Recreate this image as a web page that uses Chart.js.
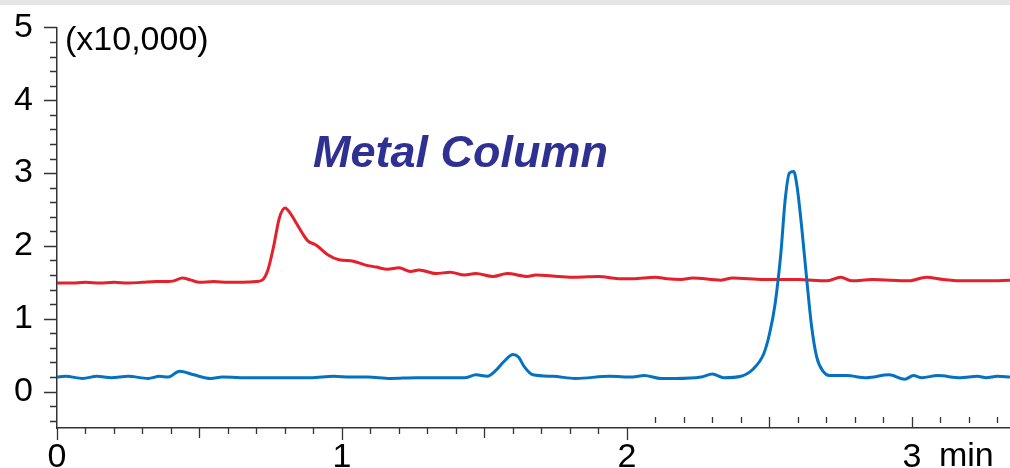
<!DOCTYPE html>
<html>
<head>
<meta charset="utf-8">
<script src="https://cdn.jsdelivr.net/npm/chart.js@4/dist/chart.umd.min.js"></script>
<style>
  html, body { margin: 0; padding: 0; background: #fff; }
  #wrap { position: relative; width: 1010px; height: 468px; }
  #topbar { position: absolute; left: 0; top: 0; width: 1010px; height: 5px; background: #e6e6e6; }
</style>
</head>
<body>
<div id="wrap">
  <canvas id="chart"></canvas>
  <div id="topbar"></div>
</div>
<script>
// time axis (min) and intensity (x10,000)
var redTimes = [0.00, 0.05, 0.10, 0.15, 0.20, 0.25, 0.30, 0.35, 0.39, 0.41, 0.44, 0.47, 0.50, 0.55, 0.60, 0.65, 0.70, 0.72,
  0.74, 0.76, 0.78, 0.80, 0.82, 0.84, 0.86, 0.88, 0.91, 0.95, 0.99, 1.04, 1.08, 1.12, 1.16, 1.20, 1.24, 1.27, 1.33,
  1.38, 1.43, 1.47, 1.53, 1.58, 1.65, 1.68, 1.76, 1.82, 1.90, 1.97, 2.02, 2.10, 2.14, 2.19, 2.23, 2.33, 2.37, 2.48,
  2.60, 2.70, 2.75, 2.79, 2.86, 2.99, 3.05, 3.11, 3.18, 3.27, 3.344];
var redValues = [1.49, 1.49, 1.50, 1.49, 1.50, 1.49, 1.50, 1.51, 1.51, 1.52, 1.56, 1.53, 1.50, 1.51, 1.50, 1.50, 1.51, 1.53,
  1.67, 1.99, 2.38, 2.52, 2.44, 2.31, 2.18, 2.07, 2.01, 1.88, 1.81, 1.79, 1.74, 1.71, 1.68, 1.70, 1.65, 1.67, 1.62,
  1.64, 1.60, 1.62, 1.58, 1.62, 1.58, 1.60, 1.58, 1.57, 1.58, 1.55, 1.55, 1.57, 1.55, 1.54, 1.56, 1.53, 1.56, 1.54,
  1.54, 1.52, 1.57, 1.52, 1.54, 1.52, 1.57, 1.54, 1.52, 1.52, 1.53];

var blueTimes = [0.00, 0.03, 0.09, 0.14, 0.19, 0.25, 0.32, 0.36, 0.39, 0.43, 0.48, 0.54, 0.58, 0.68, 0.79, 0.89, 0.97, 1.03,
  1.09, 1.17, 1.26, 1.36, 1.43, 1.47, 1.51, 1.54, 1.57, 1.60, 1.62, 1.64, 1.67, 1.74, 1.82, 1.94, 2.02, 2.06, 2.12,
  2.17, 2.26, 2.30, 2.34, 2.40, 2.44, 2.48, 2.50, 2.52, 2.54, 2.555, 2.57, 2.585, 2.597, 2.613, 2.631, 2.648, 2.666,
  2.69, 2.71, 2.77, 2.84, 2.92, 2.975, 3.005, 3.034, 3.09, 3.17, 3.23, 3.26, 3.30, 3.344];
var blueValues = [0.20, 0.21, 0.18, 0.21, 0.19, 0.21, 0.18, 0.21, 0.20, 0.28, 0.23, 0.18, 0.20, 0.19, 0.19, 0.19, 0.21, 0.20,
  0.20, 0.18, 0.19, 0.19, 0.19, 0.23, 0.21, 0.29, 0.42, 0.51, 0.47, 0.34, 0.23, 0.21, 0.18, 0.21, 0.20, 0.22, 0.18,
  0.18, 0.20, 0.24, 0.19, 0.21, 0.30, 0.52, 0.79, 1.21, 1.90, 2.63, 3.00, 3.02, 2.81, 2.26, 1.53, 0.89, 0.47,
  0.27, 0.22, 0.22, 0.19, 0.23, 0.17, 0.22, 0.19, 0.22, 0.19, 0.21, 0.19, 0.21, 0.20];

var xTickLabels = [0, 1, 2, 3];
var yTickLabels = [0, 1, 2, 3, 4, 5];

function toPoints(xs, ys) {
  return xs.map(function (x, i) { return { x: x, y: ys[i] }; });
}

var axisColor = '#333333';
var labelFont = '34px "Liberation Sans", Arial, sans-serif';

var extras = {
  id: 'extras',
  afterDraw: function (chart) {
    var ctx = chart.ctx;
    var xs = chart.scales.x, ys = chart.scales.y;
    var area = chart.chartArea;
    ctx.save();
    ctx.strokeStyle = axisColor;
    ctx.lineWidth = 1.3;
    ctx.beginPath();
    // y ticks, every 0.2
    for (var i = -2; i <= 25; i++) {
      var py = Math.round(ys.getPixelForValue(i / 5)) + 0.5;
      var len = (i % 5 === 0) ? 13 : 7;
      ctx.moveTo(area.left - len, py);
      ctx.lineTo(area.left, py);
    }
    // x ticks, every 0.1
    for (var j = 0; j <= 33; j++) {
      var px = Math.round(xs.getPixelForValue(j / 10)) + 0.5;
      if (j <= 20) {
        var l = (j % 10 === 0) ? 12 : (j % 5 === 0 ? 10 : 6);
        ctx.moveTo(px, area.bottom);
        ctx.lineTo(px, area.bottom + l);
      } else {
        ctx.moveTo(px, area.bottom - 11);
        ctx.lineTo(px, (j % 5 === 0) ? area.bottom : area.bottom - 5);
      }
    }
    ctx.stroke();

    ctx.fillStyle = '#000';
    ctx.font = labelFont;
    ctx.textBaseline = 'alphabetic';
    ctx.textAlign = 'left';
    ctx.fillText('(x10,000)', area.left + 8, 50);
    ctx.fillText('min', xs.getPixelForValue(3) + 27, area.bottom + 38);

    ctx.fillStyle = '#2e3192';
    ctx.font = 'italic bold 45px "Liberation Sans", Arial, sans-serif';
    ctx.fillText('Metal Column', 313, 167);
    ctx.restore();
  }
};

var ctx = document.getElementById('chart').getContext('2d');
Chart.defaults.font.family = '"Liberation Sans", Arial, sans-serif';
new Chart(ctx, {
  type: 'scatter',
  data: {
    datasets: [{
      label: 'blue',
      data: toPoints(blueTimes, blueValues),
      showLine: true,
      borderColor: '#0572c1',
      borderWidth: 3,
      pointRadius: 0,
      cubicInterpolationMode: 'monotone'
    }, {
      label: 'red',
      data: toPoints(redTimes, redValues),
      showLine: true,
      borderColor: '#e4202a',
      borderWidth: 3,
      pointRadius: 0,
      cubicInterpolationMode: 'monotone'
    }]
  },
  options: {
    responsive: true,
    maintainAspectRatio: false,
    animation: false,
    layout: { padding: { top: 0, right: 0, bottom: 0, left: 0 } },
    plugins: { legend: { display: false }, tooltip: { enabled: false } },
    scales: {
      x: {
        type: 'linear',
        min: 0,
        max: 3.344,
        afterBuildTicks: function (s) { s.ticks = xTickLabels.map(function (v) { return { value: v }; }); },
        afterFit: function (s) { s.height = 40; },
        grid: { display: true, drawOnChartArea: false, drawTicks: false },
        border: { display: true, color: axisColor, width: 1.5 },
        ticks: { color: '#000', font: { size: 34 }, padding: 9, maxRotation: 0, autoSkip: false }
      },
      y: {
        min: -0.5,
        max: 5,
        afterBuildTicks: function (s) { s.ticks = yTickLabels.map(function (v) { return { value: v }; }); },
        afterFit: function (s) { s.width = 57; },
        grid: { display: true, drawOnChartArea: false, drawTicks: false },
        border: { display: true, color: axisColor, width: 1.5 },
        ticks: { color: '#000', font: { size: 34, lineHeight: 0.2 }, padding: 24 }
      }
    }
  },
  plugins: [extras]
});
</script>
</body>
</html>
